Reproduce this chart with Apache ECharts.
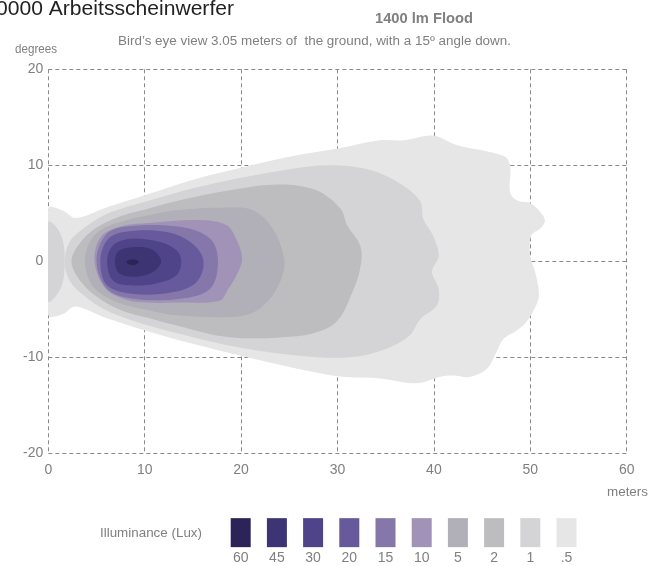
<!DOCTYPE html>
<html><head><meta charset="utf-8">
<script src="https://cdn.jsdelivr.net/npm/echarts@6/dist/echarts.min.js"></script>
<style>html,body{margin:0;padding:0;background:#fff}#c{width:648px;height:566px}</style>
</head><body><div id="c"></div>
<script>
// ---- data ----
const xTicks = [0, 10, 20, 30, 40, 50, 60];
const yTicks = [-20, -10, 0, 10, 20];
const levels = ['60', '45', '30', '20', '15', '10', '5', '2', '1', '.5'];
const palette = ['#2c2459', '#3d3473', '#4f448a', '#675a9c', '#8577aa', '#a193b8', '#b1afb7', '#bdbdc0', '#d4d4d6', '#e6e6e6'];

// contour outlines, [meters, degrees]
const c05 = [[0,5.5],[1.5,5.3],[2.9,4.5],[6,5.6],[10.4,7.0],[15,8.5],[20.2,9.8],[25,10.9],[30.3,11.8],[34.4,12.6],[36.8,12.6],[39.9,13.1],[42.4,12.1],[47.2,11.0],[47.9,10.0],[47.9,7.2],[48.6,6.35],[50.1,6.0],[51.3,4.8],[51.5,4.1],[51.0,3.4],[50.1,2.7],[50.0,0.6],[50.5,-1.1],[50.9,-3.5],[50.5,-4.8],[49.6,-6.3],[48.6,-7.2],[47.2,-8.1],[46.5,-9.45],[45.5,-11.2],[43.7,-12.05],[42.0,-11.9],[40.6,-12.05],[38.2,-12.7],[34.4,-12.2],[30.3,-12.0],[25,-11.0],[20.2,-9.9],[15,-8.6],[10.4,-7.3],[6,-5.9],[2.8,-4.7],[1.5,-5.5],[0,-5.6]];
const c1 = [[1.7,0],[2.2,2.0],[3.5,3.3],[6,4.9],[10.4,6.3],[15,7.6],[20,8.7],[25,9.6],[29.2,10.0],[33.4,9.5],[36.8,7.9],[38.6,6.2],[38.9,4.4],[39.9,2.7],[40.5,0.6],[39.8,-1.1],[40.5,-2.9],[40.3,-4.6],[38.6,-6.0],[37.5,-7.7],[35.1,-9.1],[31.3,-10.0],[25.8,-9.8],[20,-9.0],[15,-7.9],[10.4,-6.7],[6,-5.1],[3.5,-3.4],[2.2,-2.0]];
const c1lobe = [[0,4.1],[0.8,3.6],[1.5,2.2],[1.7,0],[1.5,-2.2],[0.8,-3.6],[0,-4.2],[-0.5,0]];
const c2 = [[2.4,0],[3.6,2.3],[5.5,3.8],[7.8,4.8],[10.4,5.5],[13,6.2],[18.8,7.4],[24,8.0],[27.8,7.4],[30.3,5.5],[31.0,3.75],[32.4,1.5],[32.3,-1.0],[31.3,-3.8],[30.3,-5.8],[28.9,-7.0],[25.8,-7.8],[18.8,-7.9],[13,-6.6],[10.4,-5.9],[7.8,-5.2],[5.5,-4.0],[3.6,-2.4]];
const c5 = [[3.8,0],[4.3,2.0],[5.5,3.3],[7.8,4.2],[10.4,4.8],[13,5.3],[18.8,5.6],[21.3,5.3],[23.3,3.4],[24.4,0.6],[24.4,-1.1],[23.3,-3.5],[21.3,-5.3],[18.8,-5.8],[13,-5.6],[10.4,-5.1],[7.8,-4.5],[5.5,-3.4],[4.3,-2.1]];
const c10 = [[4.8,0],[5.5,2.6],[7.8,3.7],[10.4,4.0],[15.7,4.3],[18.5,3.75],[19.5,2.3],[20.1,0.3],[19.5,-1.5],[18.6,-3.0],[17.8,-4.1],[13,-4.3],[10.4,-4.3],[8.1,-4.0],[5.9,-2.8]];
const c15 = [[5.0,0],[5.9,2.7],[7.8,3.6],[13.7,3.6],[16.8,2.35],[17.6,0],[16.8,-2.85],[13.7,-3.9],[8.8,-3.9],[6.1,-2.85]];
const c20 = [[5.4,0],[6.1,2.2],[7.8,3.05],[12.3,3.05],[15.0,1.8],[16.1,0],[15.4,-2.15],[13.0,-3.2],[8.8,-3.4],[6.1,-2.5]];
const c30 = [[6.1,0],[6.7,1.65],[8.5,2.35],[11.6,2.0],[13.3,1.15],[13.8,0],[13.3,-1.45],[11.2,-2.3],[8.5,-2.5],[6.7,-2.0]];
const c45 = [[6.9,0],[7.4,1.15],[9.5,1.5],[10.9,1.15],[11.7,0],[10.9,-1.1],[9.2,-1.6],[7.4,-1.3]];
const c60 = [[8.1,-0.1],[8.4,0.15],[8.75,0.2],[9.1,0.15],[9.4,-0.1],[9.1,-0.33],[8.75,-0.38],[8.4,-0.33]];

// ---- chart ----
const FONT = 'Liberation Sans, Arial, sans-serif';
const GRAY = '#808080';
const shapes = [
  [c05, 9], [c1, 8], [c1lobe, 8], [c2, 7], [c5, 6], [c10, 5], [c15, 4], [c20, 3], [c30, 2], [c45, 1], [c60, 0]
];
function polySeries(points, colorIdx) {
  return {
    type: 'custom', xAxisIndex: 0, yAxisIndex: 0, clip: true, silent: true,
    data: [points[0]],
    renderItem: function (params, api) {
      return {
        type: 'polygon',
        shape: { points: points.map(p => api.coord(p)), smooth: 0.35 },
        style: { fill: palette[colorIdx], stroke: null }
      };
    }
  };
}

const measureCtx = document.createElement('canvas').getContext('2d');
function fitText(text, size, weight, left, cy, width, fill) {
  measureCtx.font = weight + ' ' + size + 'px ' + FONT;
  const w = measureCtx.measureText(text).width;
  return {
    type: 'text', x: left, y: cy, scaleX: width / w, silent: true,
    style: { text: text, fontSize: size, fontWeight: weight, fontFamily: FONT, fill: fill,
             textAlign: 'left', textVerticalAlign: 'middle' }
  };
}

const axisLabelStyle = { color: GRAY, fontSize: 14, fontFamily: FONT };
const splitStyle = { show: true, lineStyle: { color: '#8a8a8a', type: [4, 3], width: 1 } };

const series = shapes.map(s => polySeries(s[0], s[1]));
series.push({
  type: 'scatter', xAxisIndex: 1, yAxisIndex: 1, silent: true,
  symbol: 'rect', symbolSize: [20, 29],
  data: levels.map((l, i) => ({ value: [l, 0.5], itemStyle: { color: palette[i], opacity: 1 } }))
});

const option = {
  animation: false,
  backgroundColor: '#ffffff',
  grid: [
    { left: 48.3, right: 21.3, top: 69.3, bottom: 112.7 },
    { left: 222.6, width: 362, top: 518.3, height: 28.7 }
  ],
  xAxis: [
    { type: 'value', gridIndex: 0, min: xTicks[0], max: xTicks[xTicks.length - 1], interval: xTicks[1] - xTicks[0],
      axisLine: { show: false }, axisTick: { show: false }, splitLine: splitStyle,
      axisLabel: Object.assign({ margin: 10 }, axisLabelStyle) },
    { type: 'category', gridIndex: 1, data: levels,
      axisLine: { show: false }, axisTick: { show: false }, splitLine: { show: false },
      axisLabel: Object.assign({ margin: 4 }, axisLabelStyle) }
  ],
  yAxis: [
    { type: 'value', gridIndex: 0, min: yTicks[0], max: yTicks[yTicks.length - 1], interval: yTicks[1] - yTicks[0],
      axisLine: { show: false }, axisTick: { show: false }, splitLine: splitStyle,
      axisLabel: Object.assign({ margin: 5 }, axisLabelStyle) },
    { type: 'value', gridIndex: 1, min: 0, max: 1, show: false }
  ],
  graphic: [
    fitText('0000 Arbeitsscheinwerfer', 20, 'normal', -4, 9, 238, '#222222'),
    fitText('1400 lm Flood', 14, 'bold', 375, 19, 98, GRAY),
    fitText('Bird\u2019s eye view 3.05 meters of  the ground, with a 15\u00ba angle down.', 12, 'normal', 118, 42, 393, GRAY),
    fitText('degrees', 13, 'normal', 15, 49, 42, GRAY),
    fitText('meters', 13, 'normal', 607, 492, 41, GRAY),
    fitText('Illuminance (Lux)', 13, 'normal', 100, 533, 102, GRAY)
  ],
  series: series
};

const chart = echarts.init(document.getElementById('c'), null, { renderer: 'canvas' });
chart.setOption(option);
</script>
</body></html>
